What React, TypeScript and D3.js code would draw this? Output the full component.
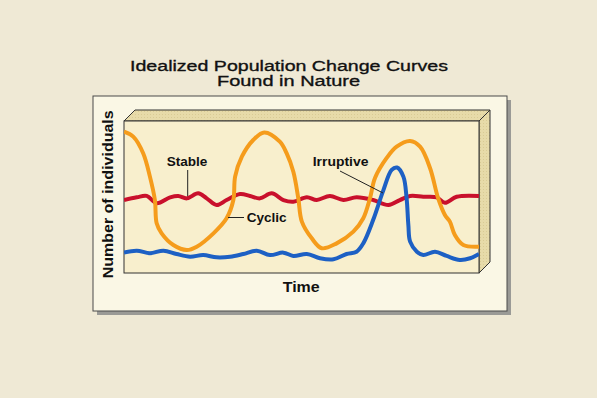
import React from "react";
import * as d3 from "d3";

// Time axis: 0..100, individuals: 0..100 (relative units)
const cyclicT = [0, 2.6, 5.4, 7.3, 8.7, 9.2, 10.6, 13.9, 17.7, 20.5, 25.2, 28.9, 30.8, 31.3, 33.2, 36.4, 39.5, 43.9, 45.8, 47.7, 49.1, 50.1, 52.9, 55.7, 59.9, 64.6, 67.4, 69.3, 70.7, 74, 76.8, 80.6, 83.4, 86.2, 88.5, 90.4, 91.8, 93.2, 95.6, 100];
const cyclicV = [93, 89.7, 78.8, 63.4, 48, 32.7, 26.1, 18.4, 15.1, 17.3, 26.1, 36, 48, 63.4, 76.5, 87.5, 92.5, 86.4, 78.8, 66.6, 49.1, 33.8, 22.8, 16.3, 19.5, 27.2, 36, 49.3, 62.5, 75.7, 83.1, 86.8, 83.1, 69.1, 49.1, 38.2, 33.8, 25, 18.4, 17.3];

const stableT = [0, 3.6, 6.4, 9.2, 13, 15.3, 17.7, 20.9, 23.3, 26.1, 28.9, 32.7, 35.5, 38.3, 41.6, 44.9, 47.7, 51.5, 54.3, 58, 61.8, 65.5, 70.2, 74.5, 77.7, 80.6, 84.3, 88.1, 90.4, 93.7, 100];
const stableV = [48, 49.8, 50.7, 45.9, 49.8, 50.7, 49.1, 52.4, 49.1, 44.7, 48, 52, 50.7, 49.1, 52.4, 48, 46.9, 49.8, 48, 50.7, 48, 49.8, 48, 44.7, 48, 50.7, 50.2, 49.8, 46.2, 50.2, 50.7];

const irruptiveT = [0, 3.6, 7.3, 11.1, 14.8, 18.6, 22.3, 26.1, 29.9, 33.6, 37.4, 41.1, 44.9, 47.7, 51.5, 55.2, 59, 62.7, 65.5, 67.4, 70.2, 73, 75.4, 76.9, 78.7, 79.6, 80.1, 80.6, 82.5, 84.3, 87.6, 90.9, 94.6, 97.5, 100];
const irruptiveV = [13.4, 14.7, 13, 14.7, 12.5, 10.7, 11.8, 10.3, 10.7, 12.5, 14.7, 11.8, 13.4, 11.2, 12.5, 9.7, 9, 12.5, 14, 19.5, 35, 54, 67.8, 69.4, 63.4, 49.3, 31.6, 20.6, 14, 11.8, 14, 11.2, 8.6, 9.7, 12.5];

const titleLines = ["Idealized Population Change Curves", "Found in Nature"];
const xLabel = "Time";
const yLabel = "Number of individuals";
const seriesLabels = ["Stable", "Cyclic", "Irruptive"];

const W = 597;
const H = 398;
const front = { x0: 124, y0: 121, x1: 479, y1: 273 };
const depth = { dx: 11, dy: -11 };

export default function App() {
  const x = d3.scaleLinear().domain([0, 100]).range([front.x0, front.x1]);
  const y = d3.scaleLinear().domain([0, 100]).range([front.y1, front.y0]);
  const line = d3
    .line<[number, number]>()
    .x((d) => x(d[0]))
    .y((d) => y(d[1]))
    .curve(d3.curveCatmullRom.alpha(0.5));

  const zip = (t: number[], v: number[]) => t.map((tt, i) => [tt, v[i]] as [number, number]);
  const series = [
    { data: zip(stableT, stableV), color: "#c9102c" },
    { data: zip(irruptiveT, irruptiveV), color: "#1d60c4" },
    { data: zip(cyclicT, cyclicV), color: "#f59c1c" },
  ];

  const { x0, y0, x1, y1 } = front;
  const { dx, dy } = depth;
  const font = "'Liberation Sans', Arial, Helvetica, sans-serif";

  return (
    <svg
      width={W}
      height={H}
      style={{ position: "absolute", left: 0, top: 0, display: "block" }}
    >
      <defs>
        <clipPath id="frontClip">
          <rect x={x0} y={y0} width={x1 - x0} height={y1 - y0} />
        </clipPath>
        <pattern id="tex" width="3" height="3" patternUnits="userSpaceOnUse">
          <rect width="3" height="3" fill="#e7dba9" />
          <rect width="1" height="1" fill="#d9cb95" />
        </pattern>
      </defs>
      <rect x={0} y={0} width={W} height={H} fill="#efe9d5" />

      {/* title */}
      <g fontFamily={font} fontSize={15.5} fill="#111" stroke="#111" strokeWidth={0.35} textAnchor="middle">
        <text x={289} y={70.7} textLength={318} lengthAdjust="spacingAndGlyphs">
          {titleLines[0]}
        </text>
        <text x={288.5} y={85.7} textLength={143} lengthAdjust="spacingAndGlyphs">
          {titleLines[1]}
        </text>
      </g>

      {/* panel with shadow */}
      <rect x={97} y={100} width={414} height={215} fill="#9a9a96" />
      <rect x={93} y={96} width={414} height={215} fill="#faf7e5" stroke="#4a4a4a" strokeWidth={1} />

      {/* 3D box */}
      <polygon
        points={`${x0},${y0} ${x0 + dx},${y0 + dy} ${x1 + dx},${y0 + dy} ${x1},${y0}`}
        fill="url(#tex)"
        stroke="#333"
        strokeWidth={1}
      />
      <polygon
        points={`${x1},${y0} ${x1 + dx},${y0 + dy} ${x1 + dx},${y1 + dy} ${x1},${y1}`}
        fill="url(#tex)"
        stroke="#333"
        strokeWidth={1}
      />
      <rect x={x0} y={y0} width={x1 - x0} height={y1 - y0} fill="#f8efcd" stroke="#333" strokeWidth={1} />

      {/* curves */}
      <g clipPath="url(#frontClip)">
        {series.map((s, i) => (
          <path
            key={i}
            d={line(s.data) || ""}
            fill="none"
            stroke={s.color}
            strokeWidth={4}
            strokeLinejoin="round"
          />
        ))}
      </g>

      {/* leader lines */}
      <g stroke="#222" strokeWidth={1} fill="none">
        <line x1={187.7} y1={170} x2={187.7} y2={196} />
        <line x1={244} y1={217.5} x2={228} y2={217.5} />
        <line x1={340} y1={171} x2={383} y2={193} />
      </g>

      {/* series labels */}
      <g fontFamily={font} fontWeight="bold" fontSize={12.5} fill="#111">
        <text x={166.7} y={166} textLength={40.7} lengthAdjust="spacingAndGlyphs">
          {seriesLabels[0]}
        </text>
        <text x={246.7} y={222.3} textLength={40} lengthAdjust="spacingAndGlyphs">
          {seriesLabels[1]}
        </text>
        <text x={312.7} y={166} textLength={55.7} lengthAdjust="spacingAndGlyphs">
          {seriesLabels[2]}
        </text>
      </g>

      {/* axis labels */}
      <text
        x={282.7}
        y={292.3}
        fontFamily={font}
        fontWeight="bold"
        fontSize={14}
        fill="#111"
        textLength={37}
        lengthAdjust="spacingAndGlyphs"
      >
        {xLabel}
      </text>
      <text
        transform="translate(113.3,278.3) rotate(-90)"
        fontFamily={font}
        fontWeight="bold"
        fontSize={15}
        fill="#111"
        textLength={168}
        lengthAdjust="spacingAndGlyphs"
      >
        {yLabel}
      </text>
    </svg>
  );
}
